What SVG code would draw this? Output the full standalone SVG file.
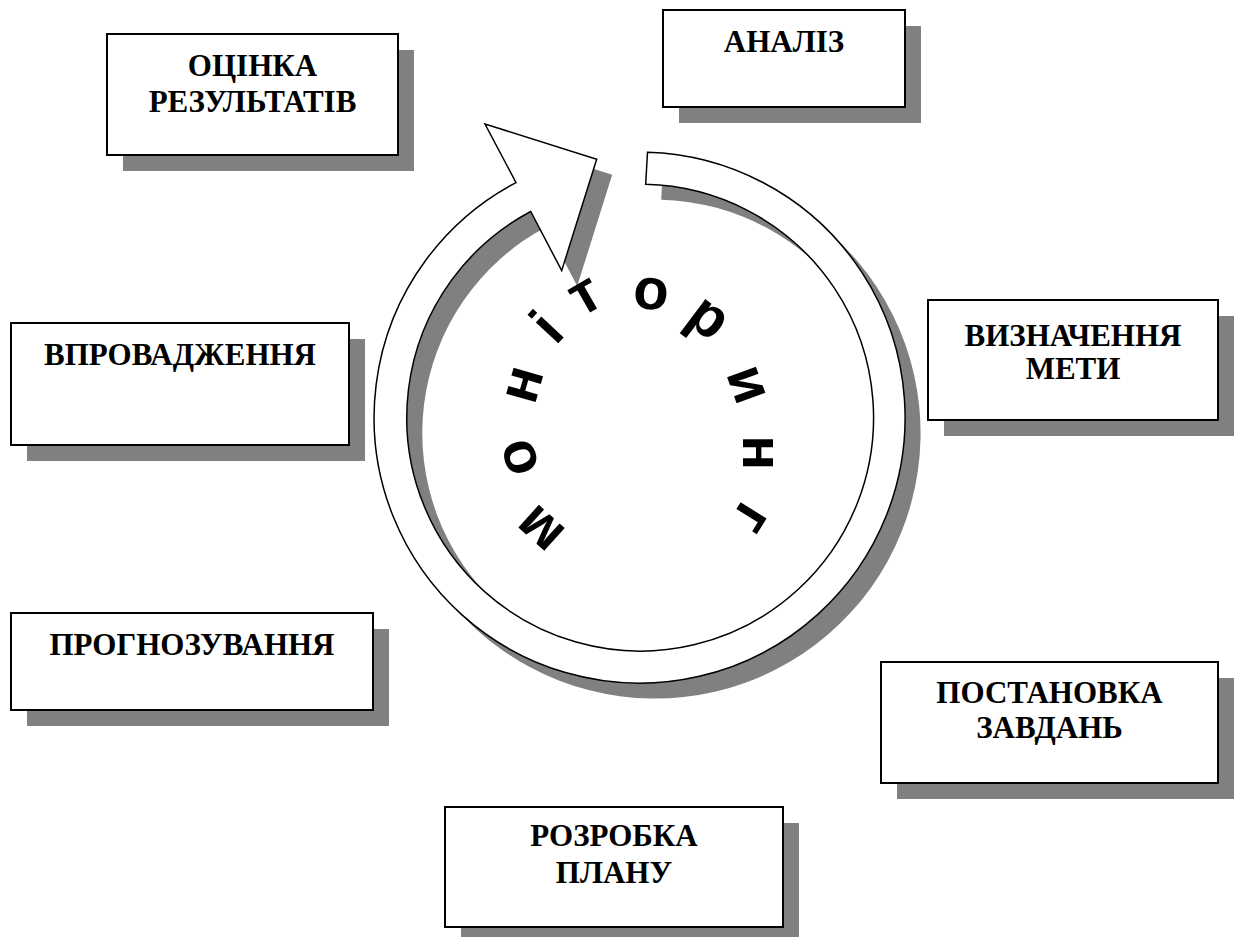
<svg xmlns="http://www.w3.org/2000/svg" width="1241" height="937" viewBox="0 0 1241 937">
<style>
.sh{fill:#808080;stroke:none}
.bx{fill:#fff;stroke:#000;stroke-width:2}
.t{font-family:"Liberation Serif","Times New Roman",serif;font-weight:bold;font-size:31px;text-anchor:middle;fill:#000}
.m{font-family:"Liberation Sans",Arial,sans-serif;font-weight:bold;font-size:58px;text-anchor:middle;fill:#000}
.ring{fill:#fff;stroke:#000;stroke-width:1.5;stroke-linejoin:miter}
</style>
<defs>
<path id="arrowShape" d="M 647.5,152.2 A 265.5 265.5 0 1 1 516,182.6 L 485,124 L 596.7,159.3 L 561.7,270.6 L 530.7,211.5 A 233.4 233.4 0 1 0 645.7,184.3 Z"/>
</defs>
<rect width="1241" height="937" fill="#fff"/>
<g id="cycle-arrow">
<use href="#arrowShape" class="sh" transform="translate(15.5,15.5)"/>
<use href="#arrowShape" class="ring"/>
</g>
<g id="monitoring">
<text class="m" transform="translate(541.7,527.5) rotate(-138)" y="15">м</text>
<text class="m" transform="translate(520.5,457) rotate(-108)" y="15">о</text>
<text class="m" transform="translate(525,385) rotate(-74)" y="15">н</text>
<text class="m" transform="translate(550,330) rotate(-47)" y="15">і</text>
<text class="m" transform="translate(586,297.5) rotate(-30)" y="15">т</text>
<text class="m" transform="translate(651,294) rotate(5)" y="15">о</text>
<text class="m" transform="translate(707,320) rotate(37)" y="15">р</text>
<text class="m" transform="translate(746,385) rotate(70)" y="15">и</text>
<text class="m" transform="translate(758.3,452.7) rotate(90)" y="15">н</text>
<text class="m" transform="translate(749,517) rotate(122)" y="15">г</text>
</g>
<g id="node-otsinka">
<rect class="sh" x="123" y="50" width="291" height="121"/>
<rect class="bx" x="107" y="34" width="291" height="121"/>
<text class="t" x="252.5" y="76">ОЦІНКА</text>
<text class="t" x="252.5" y="112">РЕЗУЛЬТАТІВ</text>
</g>
<g id="node-analiz">
<rect class="sh" x="679" y="26" width="242" height="97"/>
<rect class="bx" x="663" y="10" width="242" height="97"/>
<text class="t" x="784" y="52">АНАЛІЗ</text>
</g>
<g id="node-vyznachennya">
<rect class="sh" x="944" y="316" width="290" height="120"/>
<rect class="bx" x="928" y="300" width="290" height="120"/>
<text class="t" x="1073" y="346">ВИЗНАЧЕННЯ</text>
<text class="t" x="1073" y="379">МЕТИ</text>
</g>
<g id="node-vprovadzhennya">
<rect class="sh" x="27" y="339" width="338" height="122"/>
<rect class="bx" x="11" y="323" width="338" height="122"/>
<text class="t" x="180" y="365">ВПРОВАДЖЕННЯ</text>
</g>
<g id="node-prognozuvannya">
<rect class="sh" x="27" y="629" width="362" height="97"/>
<rect class="bx" x="11" y="613" width="362" height="97"/>
<text class="t" x="192" y="655">ПРОГНОЗУВАННЯ</text>
</g>
<g id="node-postanovka">
<rect class="sh" x="897" y="678" width="337" height="121"/>
<rect class="bx" x="881" y="662" width="337" height="121"/>
<text class="t" x="1049.5" y="703">ПОСТАНОВКА</text>
<text class="t" x="1049.5" y="738">ЗАВДАНЬ</text>
</g>
<g id="node-rozrobka">
<rect class="sh" x="461" y="823" width="338" height="120"/>
<rect class="bx" x="445" y="807" width="338" height="120"/>
<text class="t" x="614" y="846">РОЗРОБКА</text>
<text class="t" x="614" y="883">ПЛАНУ</text>
</g>
</svg>
